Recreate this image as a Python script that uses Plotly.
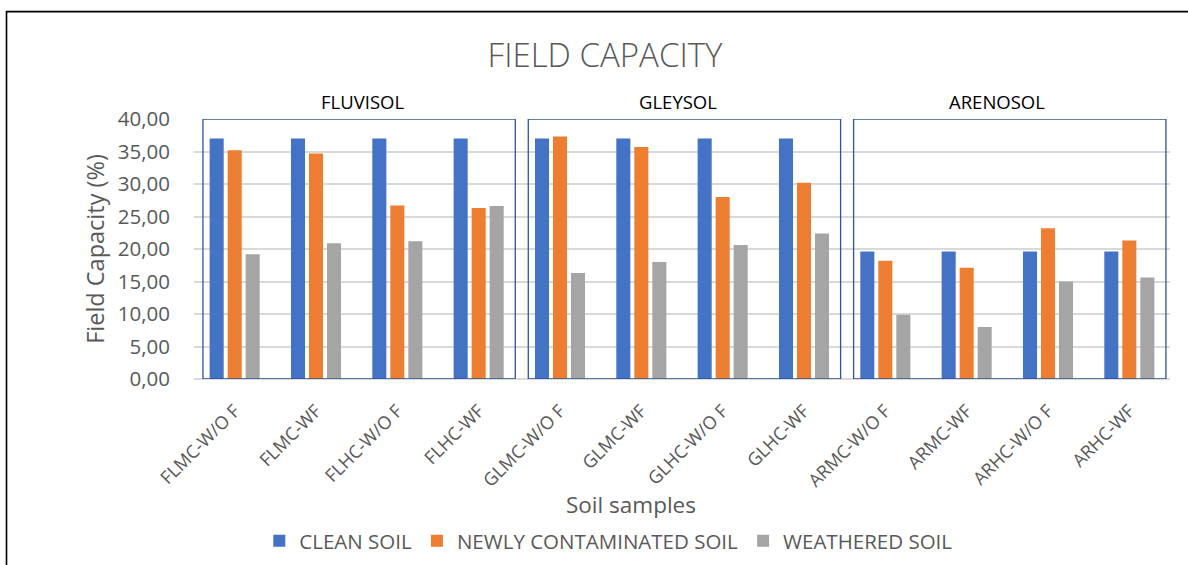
import plotly.graph_objects as go

# Soil samples (x categories) and field capacity (%) for each treatment
samples = ["FLMC-W/O F", "FLMC-WF", "FLHC-W/O F", "FLHC-WF",
           "GLMC-W/O F", "GLMC-WF", "GLHC-W/O F", "GLHC-WF",
           "ARMC-W/O F", "ARMC-WF", "ARHC-W/O F", "ARHC-WF"]
clean_soil = [37.0, 37.0, 37.0, 37.0,
              37.0, 37.0, 37.0, 37.0,
              19.6, 19.6, 19.6, 19.6]
newly_contaminated = [35.2, 34.7, 26.7, 26.3,
                      37.3, 35.7, 28.0, 30.2,
                      18.2, 17.1, 23.2, 21.3]
weathered = [19.2, 20.9, 21.2, 26.6,
             16.3, 18.0, 20.6, 22.4,
             9.9, 8.0, 15.0, 15.6]

soil_groups = ["FLUVISOL", "GLEYSOL", "ARENOSOL"]
group_start = [0, 4, 8]

FONT = "Open Sans"
GREY_TXT = "#595959"

fig = go.Figure()
series = [
    ("CLEAN SOIL", clean_soil, "#4472C4"),
    ("NEWLY CONTAMINATED SOIL", newly_contaminated, "#ED7D31"),
    ("WEATHERED SOIL", weathered, "#A5A5A5"),
]
for name, vals, col in series:
    fig.add_trace(go.Bar(x=samples, y=vals, name=name, marker_color=col,
                         marker_line_width=0))

shapes = []
annotations = []
label_x = [1.57, 5.45, 9.37]
for gname, start, lx in zip(soil_groups, group_start, label_x):
    # blue frame around each soil type
    shapes.append(dict(type="rect", xref="x", yref="y",
                       x0=start - 0.39, x1=start + 3.45, y0=0, y1=40,
                       line=dict(color="#2F5597", width=1.3),
                       fillcolor="rgba(0,0,0,0)", layer="above"))
    annotations.append(dict(text=gname, xref="x", yref="paper",
                            x=lx, y=1.0, yanchor="bottom", yshift=3,
                            showarrow=False,
                            font=dict(family=FONT, size=18.5, color="#000000")))

# x-axis caption, placed under the tick labels
annotations.append(dict(text="Soil samples", xref="paper", yref="paper",
                        x=0.4477, y=-0.483, xanchor="center",
                        yanchor="middle", showarrow=False,
                        font=dict(family=FONT, size=22.5, color=GREY_TXT)))

# outer chart border
shapes.append(dict(type="rect", xref="paper", yref="paper",
                   x0=-0.1921, x1=1.03, y0=-0.76, y1=1.413,
                   line=dict(color="#000000", width=1.6),
                   fillcolor="rgba(0,0,0,0)", layer="below"))

fig.update_layout(
    width=1188, height=565,
    margin=dict(l=194, r=18, t=119, b=186),
    paper_bgcolor="white", plot_bgcolor="white",
    separators=",.",
    barmode="group", bargap=0.336, bargroupgap=0.22,
    title=dict(text="FIELD CAPACITY", x=605 / 1188, xanchor="center",
               y=1 - 55 / 565, yanchor="middle",
               font=dict(family=FONT, size=33, weight=300, color=GREY_TXT)),
    font=dict(family=FONT, color=GREY_TXT),
    shapes=shapes,
    annotations=annotations,
    showlegend=True,
    legend=dict(orientation="h", x=0.425, xanchor="center",
                yref="container", y=1 - 541 / 565, yanchor="middle",
                font=dict(family=FONT, size=20.5, color=GREY_TXT),
                itemwidth=30, traceorder="normal"),
)
fig.update_yaxes(range=[0, 40], dtick=5, tickformat=".2f", automargin=False,
                 showgrid=True, gridcolor="#D9D9D9", gridwidth=1.5,
                 zeroline=True, zerolinecolor="#D9D9D9", zerolinewidth=1.5,
                 showline=False, ticks="", ticklabelstandoff=23,
                 tickfont=dict(family=FONT, size=20.5, color=GREY_TXT),
                 title=dict(text="Field Capacity (%)", standoff=6,
                            font=dict(family=FONT, size=23.5, color=GREY_TXT)))
fig.update_xaxes(showgrid=False, showline=False, ticks="", automargin=False,
                 tickangle=-45, ticklabelstandoff=17,
                 tickfont=dict(family=FONT, size=18, color=GREY_TXT))

fig.write_html("out.html")
